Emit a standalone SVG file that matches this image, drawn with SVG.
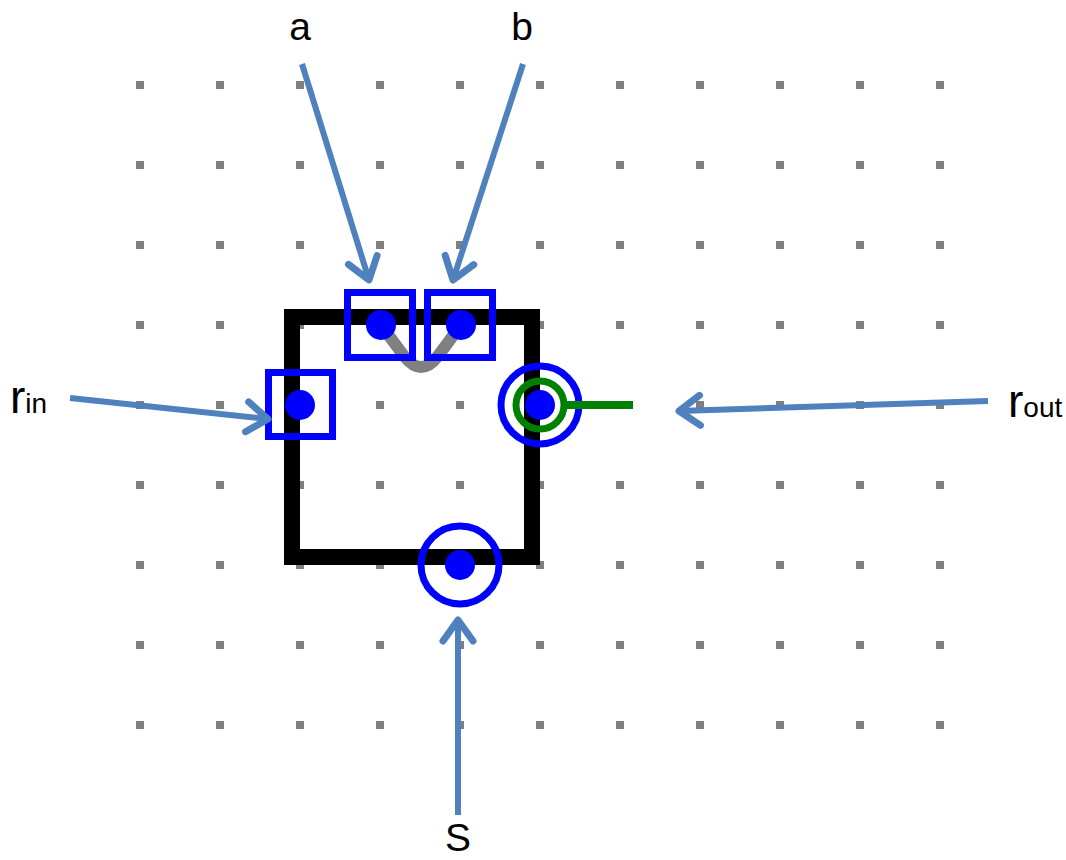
<svg xmlns="http://www.w3.org/2000/svg" width="1066" height="860" viewBox="0 0 1066 860">
<defs>
<style>
.dot{fill:#7f7f7f}
.lbl{font-family:"Liberation Sans",Arial,sans-serif;font-size:39px;fill:#000}
.big{font-size:46px}
.sub{font-size:28px}
.arrow{stroke:#4f81bd;stroke-width:6;fill:none;marker-end:url(#ah)}
.port{fill:none;stroke:#0000ff;stroke-width:7}
.pin{fill:#0000ff}
</style>
<marker id="ah" markerUnits="userSpaceOnUse" markerWidth="40" markerHeight="40" viewBox="-30 -20 40 40" refX="0" refY="0" orient="auto">
<path d="M-21,-15 L0,0 L-21,15" fill="none" stroke="#4f81bd" stroke-width="7" stroke-linecap="round" stroke-linejoin="round"/>
</marker>
<pattern id="grid" x="136" y="81" width="80" height="80" patternUnits="userSpaceOnUse">
<rect class="dot" x="0" y="0" width="8" height="8"/>
</pattern>
</defs>
<rect width="1066" height="860" fill="#fff"/>
<g id="grid-dots">
<rect x="136" y="81" width="810" height="652" fill="url(#grid)"/>
</g>
<g id="cell">
<rect x="292" y="317" width="240" height="240" fill="none" stroke="#000" stroke-width="16"/>
</g>
<g id="link">
<path d="M381,325 L404,356 Q421,378 438,356 L461,325" fill="none" stroke="#808080" stroke-width="12" stroke-linejoin="round"/>
</g>
<g id="port-a">
<rect class="port" x="347.5" y="292.5" width="65" height="65"/>
<circle class="pin" cx="381" cy="325" r="15"/>
</g>
<g id="port-b">
<rect class="port" x="427.5" y="292.5" width="65" height="65"/>
<circle class="pin" cx="461" cy="325" r="15"/>
</g>
<g id="port-rin">
<rect class="port" x="268.5" y="372.5" width="64" height="64"/>
<circle class="pin" cx="300" cy="405" r="15"/>
</g>
<g id="port-rout">
<circle class="port" cx="540" cy="405" r="39"/>
<line x1="564" y1="405" x2="633" y2="405" stroke="#008000" stroke-width="8"/>
<circle cx="540" cy="405" r="24" fill="none" stroke="#008000" stroke-width="7"/>
<circle class="pin" cx="540" cy="405" r="15"/>
</g>
<g id="port-s">
<circle class="port" cx="460" cy="565" r="39"/>
<circle class="pin" cx="460" cy="565" r="15"/>
</g>
<g id="connectors">
<line class="arrow" x1="302" y1="64" x2="369" y2="280"/>
<line class="arrow" x1="523" y1="64" x2="453" y2="280"/>
<line class="arrow" x1="70" y1="398" x2="268" y2="419"/>
<line class="arrow" x1="988" y1="401" x2="679" y2="411"/>
<line class="arrow" x1="458" y1="815" x2="458" y2="620"/>
</g>
<g id="labels">
<text class="lbl" x="300" y="40" text-anchor="middle">a</text>
<text class="lbl" x="522" y="40" text-anchor="middle">b</text>
<text class="lbl" x="458" y="851" text-anchor="middle">S</text>
<text class="lbl big" x="10" y="413">r<tspan class="sub">in</tspan></text>
<text class="lbl big" x="1008" y="417">r<tspan class="sub">out</tspan></text>
</g>
</svg>
